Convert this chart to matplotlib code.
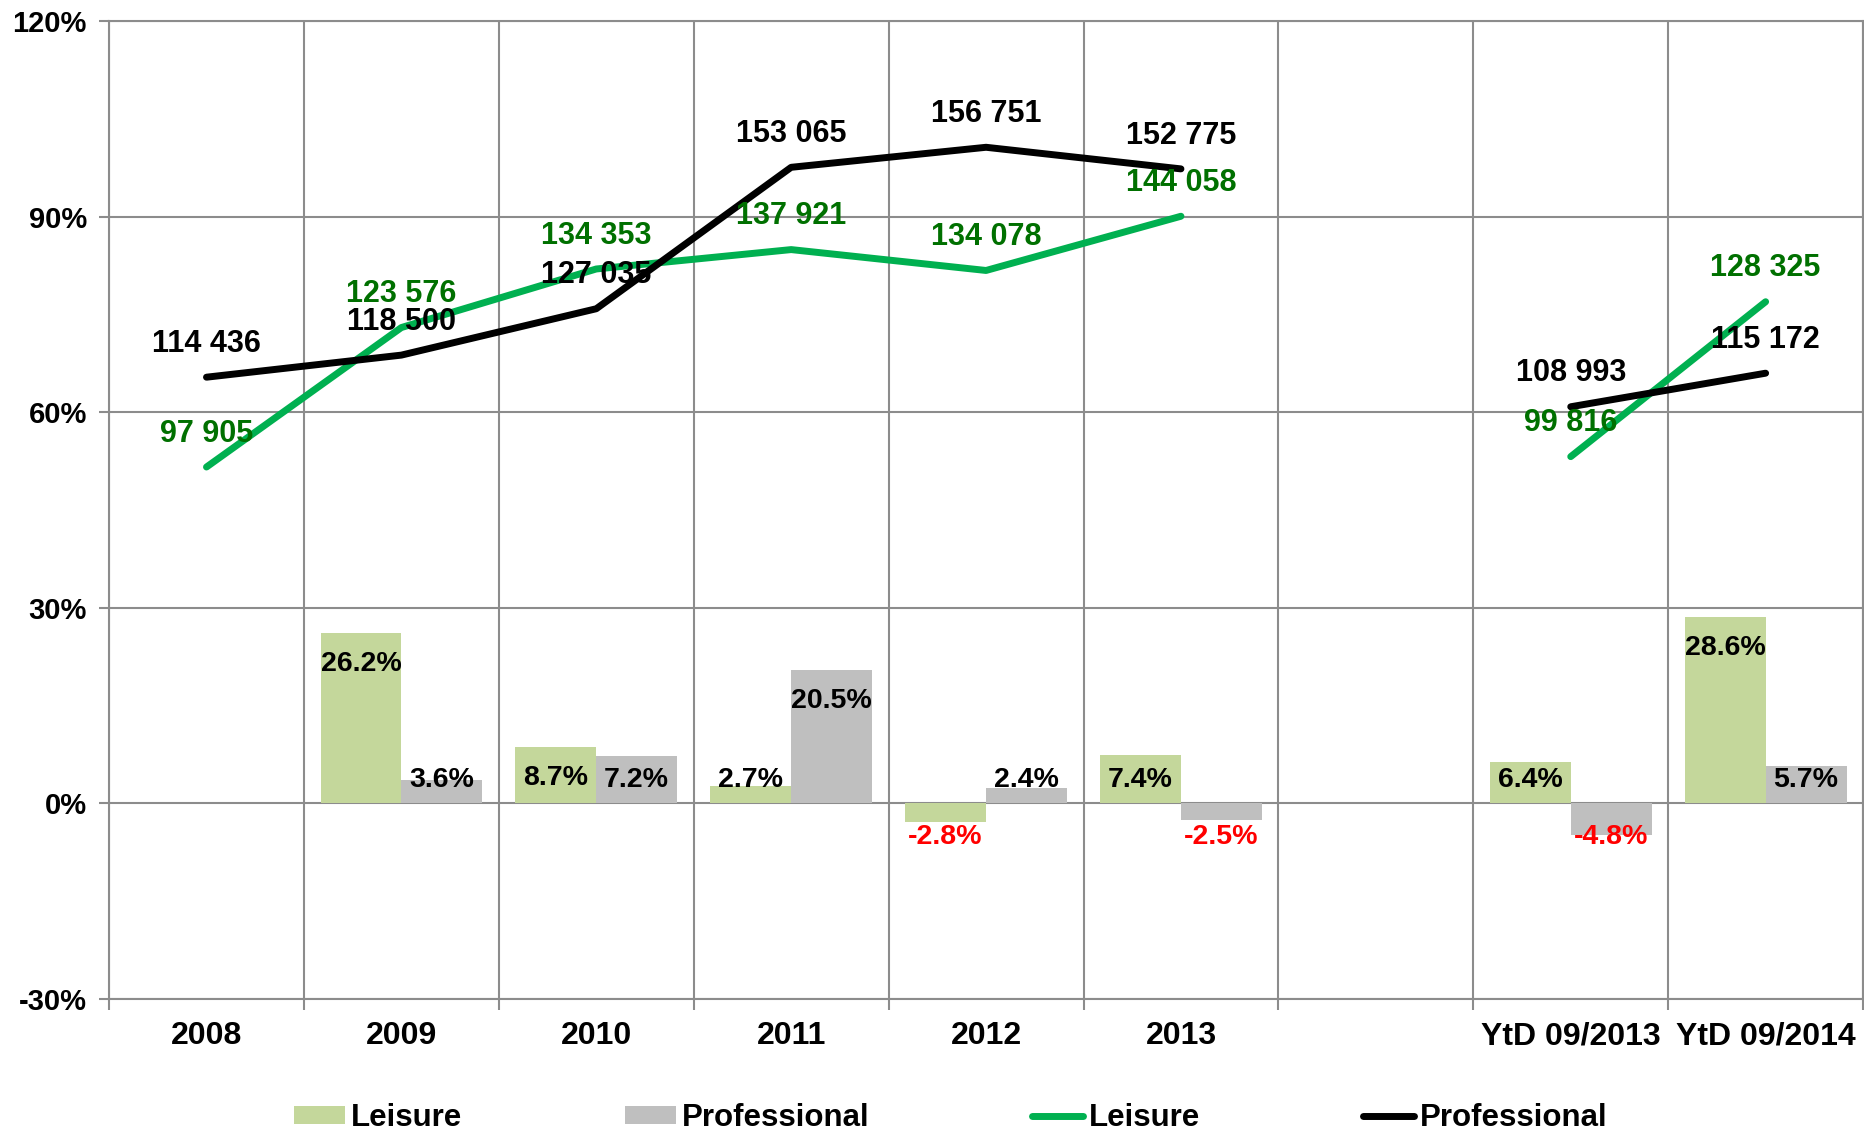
import numpy as np
import matplotlib.pyplot as plt

plt.rcParams['font.family'] = ['Liberation Sans', 'DejaVu Sans']
plt.rcParams['font.weight'] = 'bold'

# categories (empty slot between 2013 and the YtD columns)
categories = ['2008', '2009', '2010', '2011', '2012', '2013', '', 'YtD 09/2013', 'YtD 09/2014']

# growth rates in % (bars)
leisure_growth = [np.nan, 26.2, 8.7, 2.7, -2.8, 7.4, np.nan, 6.4, 28.6]
prof_growth = [np.nan, 3.6, 7.2, 20.5, 2.4, -2.5, np.nan, -4.8, 5.7]

# volumes (lines, secondary scale)
leisure_vol = [97905, 123576, 134353, 137921, 134078, 144058, np.nan, 99816, 128325]
prof_vol = [114436, 118500, 127035, 153065, 156751, 152775, np.nan, 108993, 115172]

col_leis_bar = '#c4d79b'
col_prof_bar = '#bfbfbf'
col_leis_line = '#00b050'
col_leis_txt = '#007000'
grid_col = '#8c8c8c'

fig = plt.figure(figsize=(18.64, 11.33), dpi=100)
ax = fig.add_axes([0.0585, 0.1183, 0.9410, 0.8632])

x = np.arange(len(categories))
w = 0.415

b1 = ax.bar(x - w / 2, leisure_growth, w, color=col_leis_bar, zorder=2, label='Leisure')
b2 = ax.bar(x + w / 2, prof_growth, w, color=col_prof_bar, zorder=2, label='Professional')

ax.set_xlim(-0.5, len(categories) - 0.5)
ax.set_ylim(-30, 120)
ax.set_yticks(np.arange(-30, 121, 30))
ax.set_yticklabels([f'{v}%' for v in range(-30, 121, 30)])
ax.set_xticks(x)
ax.set_xticklabels(categories)
ax.set_xticks(np.arange(-0.5, len(categories)), minor=True)

ax.tick_params(axis='x', which='major', length=0, pad=16, labelsize=23)
ax.tick_params(axis='x', which='minor', length=8, width=1.5, color=grid_col, direction='out')
ax.tick_params(axis='y', length=7, width=1.5, color=grid_col, pad=9, labelsize=21)

ax.grid(axis='y', color=grid_col, lw=1.5, zorder=0)
ax.grid(axis='x', which='minor', color=grid_col, lw=1.5, zorder=0)
for s in ax.spines.values():
    s.set_color(grid_col)
    s.set_linewidth(1.5)

# bar labels
def label_bars(xs, vals):
    for xi, v in zip(xs, vals):
        if np.isnan(v):
            continue
        if v >= 0:
            y = max(v - 4.75, 3.65)
            c = 'black'
        else:
            y = -5.1
            c = 'red'
        ax.text(xi, y, f'{v:.1f}%', ha='center', va='center', fontsize=20.5,
                color=c, zorder=5)

label_bars(x - w / 2, leisure_growth)
label_bars(x + w / 2, prof_growth)

# lines on secondary scale
ax2 = ax.twinx()
ax2.set_ylim(0, 180000)
ax2.axis('off')
l1, = ax2.plot(x, leisure_vol, color=col_leis_line, lw=5, solid_capstyle='round',
               solid_joinstyle='round', label='Leisure')
l2, = ax2.plot(x, prof_vol, color='black', lw=5, solid_capstyle='round',
               solid_joinstyle='round', label='Professional')

def fmt(v):
    return f'{int(v):,}'.replace(',', ' ')

for xi, v in zip(x, prof_vol):
    if not np.isnan(v):
        ax2.annotate(fmt(v), (xi, v), xytext=(0, 24), textcoords='offset points',
                     ha='center', va='center', fontsize=22, color='black')
for xi, v in zip(x, leisure_vol):
    if not np.isnan(v):
        ax2.annotate(fmt(v), (xi, v), xytext=(0, 24), textcoords='offset points',
                     ha='center', va='center', fontsize=22, color=col_leis_txt)

fig.legend([b1, b2, l1, l2], ['Leisure', 'Professional', 'Leisure', 'Professional'],
           loc='center', bbox_to_anchor=(0.51, 0.013), ncol=4, frameon=False,
           fontsize=22.5, handlelength=1.64, handleheight=0.5, handletextpad=0.19,
           columnspacing=5.2, borderaxespad=0)

fig.savefig('out.png', dpi=100)
